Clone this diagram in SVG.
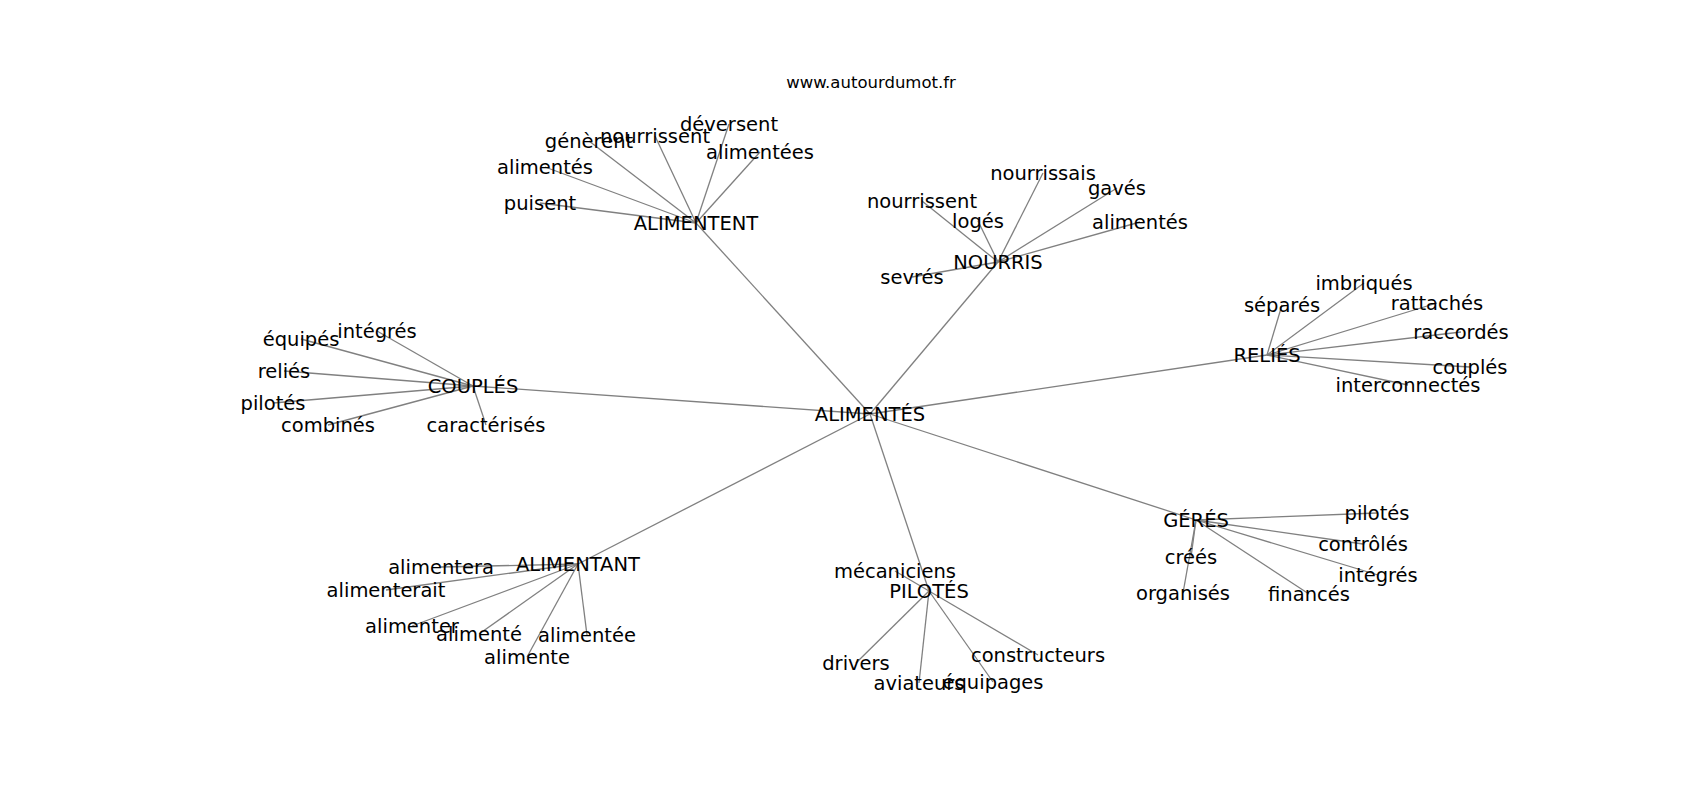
<svg xmlns="http://www.w3.org/2000/svg" width="1700" height="800" viewBox="0 0 1700 800">
<style>
text{font-family:"DejaVu Sans",sans-serif;font-size:19.5px;fill:#000;text-anchor:middle}
.title{font-size:16.5px}
#edges line{stroke:#808080;stroke-width:1.3}
</style>
<rect width="1700" height="800" fill="#fff"/>
<text class="title" x="871" y="88">www.autourdumot.fr</text>
<g id="edges">
<line x1="870" y1="414" x2="696" y2="223"/>
<line x1="870" y1="414" x2="998" y2="262"/>
<line x1="870" y1="414" x2="1267" y2="355"/>
<line x1="870" y1="414" x2="473" y2="386"/>
<line x1="870" y1="414" x2="578" y2="564"/>
<line x1="870" y1="414" x2="929" y2="591"/>
<line x1="870" y1="414" x2="1196" y2="520"/>
<line x1="696" y1="223" x2="540" y2="203"/>
<line x1="696" y1="223" x2="545" y2="167"/>
<line x1="696" y1="223" x2="589" y2="141"/>
<line x1="696" y1="223" x2="655" y2="136"/>
<line x1="696" y1="223" x2="729" y2="124"/>
<line x1="696" y1="223" x2="760" y2="152"/>
<line x1="998" y1="262" x2="912" y2="277"/>
<line x1="998" y1="262" x2="922" y2="201"/>
<line x1="998" y1="262" x2="978" y2="221"/>
<line x1="998" y1="262" x2="1043" y2="173"/>
<line x1="998" y1="262" x2="1117" y2="188"/>
<line x1="998" y1="262" x2="1140" y2="222"/>
<line x1="1267" y1="355" x2="1282" y2="305"/>
<line x1="1267" y1="355" x2="1364" y2="283"/>
<line x1="1267" y1="355" x2="1437" y2="303"/>
<line x1="1267" y1="355" x2="1461" y2="332"/>
<line x1="1267" y1="355" x2="1470" y2="367"/>
<line x1="1267" y1="355" x2="1408" y2="385"/>
<line x1="473" y1="386" x2="301" y2="339"/>
<line x1="473" y1="386" x2="377" y2="331"/>
<line x1="473" y1="386" x2="284" y2="371"/>
<line x1="473" y1="386" x2="273" y2="403"/>
<line x1="473" y1="386" x2="328" y2="425"/>
<line x1="473" y1="386" x2="486" y2="425"/>
<line x1="578" y1="564" x2="441" y2="567"/>
<line x1="578" y1="564" x2="386" y2="590"/>
<line x1="578" y1="564" x2="412" y2="626"/>
<line x1="578" y1="564" x2="479" y2="634"/>
<line x1="578" y1="564" x2="587" y2="635"/>
<line x1="578" y1="564" x2="527" y2="657"/>
<line x1="929" y1="591" x2="895" y2="571"/>
<line x1="929" y1="591" x2="856" y2="663"/>
<line x1="929" y1="591" x2="919" y2="683"/>
<line x1="929" y1="591" x2="993" y2="682"/>
<line x1="929" y1="591" x2="1038" y2="655"/>
<line x1="1196" y1="520" x2="1377" y2="513"/>
<line x1="1196" y1="520" x2="1363" y2="544"/>
<line x1="1196" y1="520" x2="1378" y2="575"/>
<line x1="1196" y1="520" x2="1309" y2="594"/>
<line x1="1196" y1="520" x2="1191" y2="557"/>
<line x1="1196" y1="520" x2="1183" y2="593"/>
</g>
<g id="n-alimentes-center"><text x="870" y="421">ALIMENTÉS</text></g>
<g id="n-alimentent"><text x="696" y="230">ALIMENTENT</text></g>
<g id="n-puisent"><text x="540" y="210">puisent</text></g>
<g id="n-alimentes-1"><text x="545" y="174">alimentés</text></g>
<g id="n-generent"><text x="589" y="148">génèrent</text></g>
<g id="n-nourrissent-1"><text x="655" y="143">nourrissent</text></g>
<g id="n-deversent"><text x="729" y="131">déversent</text></g>
<g id="n-alimentees"><text x="760" y="159">alimentées</text></g>
<g id="n-nourris"><text x="998" y="269">NOURRIS</text></g>
<g id="n-sevres"><text x="912" y="284">sevrés</text></g>
<g id="n-nourrissent-2"><text x="922" y="208">nourrissent</text></g>
<g id="n-loges"><text x="978" y="228">logés</text></g>
<g id="n-nourrissais"><text x="1043" y="180">nourrissais</text></g>
<g id="n-gaves"><text x="1117" y="195">gavés</text></g>
<g id="n-alimentes-2"><text x="1140" y="229">alimentés</text></g>
<g id="n-relies"><text x="1267" y="362">RELIÉS</text></g>
<g id="n-separes"><text x="1282" y="312">séparés</text></g>
<g id="n-imbriques"><text x="1364" y="290">imbriqués</text></g>
<g id="n-rattaches"><text x="1437" y="310">rattachés</text></g>
<g id="n-raccordes"><text x="1461" y="339">raccordés</text></g>
<g id="n-couples-1"><text x="1470" y="374">couplés</text></g>
<g id="n-interconnectes"><text x="1408" y="392">interconnectés</text></g>
<g id="n-couples"><text x="473" y="393">COUPLÉS</text></g>
<g id="n-equipes"><text x="301" y="346">équipés</text></g>
<g id="n-integres-1"><text x="377" y="338">intégrés</text></g>
<g id="n-relies-1"><text x="284" y="378">reliés</text></g>
<g id="n-pilotes-1"><text x="273" y="410">pilotés</text></g>
<g id="n-combines"><text x="328" y="432">combinés</text></g>
<g id="n-caracterises"><text x="486" y="432">caractérisés</text></g>
<g id="n-alimentant"><text x="578" y="571">ALIMENTANT</text></g>
<g id="n-alimentera"><text x="441" y="574">alimentera</text></g>
<g id="n-alimenterait"><text x="386" y="597">alimenterait</text></g>
<g id="n-alimenter"><text x="412" y="633">alimenter</text></g>
<g id="n-alimente-e"><text x="479" y="641">alimenté</text></g>
<g id="n-alimentee"><text x="587" y="642">alimentée</text></g>
<g id="n-alimente"><text x="527" y="664">alimente</text></g>
<g id="n-pilotes"><text x="929" y="598">PILOTÉS</text></g>
<g id="n-mecaniciens"><text x="895" y="578">mécaniciens</text></g>
<g id="n-drivers"><text x="856" y="670">drivers</text></g>
<g id="n-aviateurs"><text x="919" y="690">aviateurs</text></g>
<g id="n-equipages"><text x="993" y="689">équipages</text></g>
<g id="n-constructeurs"><text x="1038" y="662">constructeurs</text></g>
<g id="n-geres"><text x="1196" y="527">GÉRÉS</text></g>
<g id="n-pilotes-2"><text x="1377" y="520">pilotés</text></g>
<g id="n-controles"><text x="1363" y="551">contrôlés</text></g>
<g id="n-integres-2"><text x="1378" y="582">intégrés</text></g>
<g id="n-finances"><text x="1309" y="601">financés</text></g>
<g id="n-crees"><text x="1191" y="564">créés</text></g>
<g id="n-organises"><text x="1183" y="600">organisés</text></g>
</svg>
